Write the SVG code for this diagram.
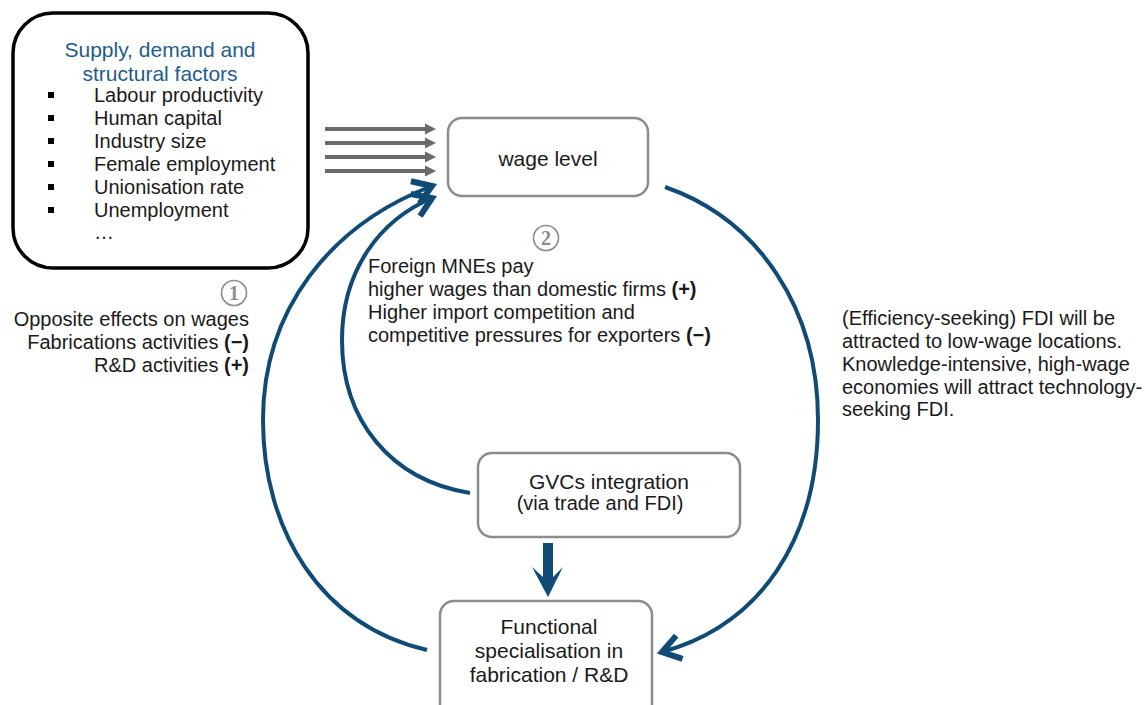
<svg xmlns="http://www.w3.org/2000/svg" width="1145" height="705" viewBox="0 0 1145 705">
<defs>
<style>
text{font-family:"Liberation Sans",Arial,sans-serif;fill:#1a1a1a;}
.t20{font-size:20px;}
.t21{font-size:21px;}
.title{font-size:21px;fill:#1f5c8a;}
.box{fill:#fff;stroke:#8c8c8c;stroke-width:2.5;}
.blue{fill:none;stroke:#0f4b74;stroke-width:4;}
.gray{stroke:#6b6b6b;stroke-width:4;}
.num{fill:none;stroke:#8c8c8c;stroke-width:1.6;}
.numt{font-family:"Liberation Serif","Times New Roman",serif;font-size:20px;font-weight:bold;fill:#8c8c8c;}
</style>
<marker id="ah" markerUnits="userSpaceOnUse" markerWidth="30" markerHeight="30" viewBox="-16 -10 20 20" refX="0" refY="0" orient="auto" overflow="visible">
<path d="M-12,-8 L0,0 L-12,8" fill="none" stroke="#0f4b74" stroke-width="4" stroke-linejoin="miter"/>
</marker>
</defs>

<g id="factors">
<rect x="13" y="13" width="295" height="255" rx="40" fill="#fff" stroke="#000" stroke-width="3.5"/>
<text class="title" x="160" y="57" text-anchor="middle">Supply, demand and</text>
<text class="title" x="160" y="81" text-anchor="middle">structural factors</text>
<g fill="#000">
<rect x="48" y="92" width="6" height="6"/>
<rect x="48" y="115" width="6" height="6"/>
<rect x="48" y="138" width="6" height="6"/>
<rect x="48" y="161" width="6" height="6"/>
<rect x="48" y="184" width="6" height="6"/>
<rect x="48" y="207" width="6" height="6"/>
</g>
<text class="t20" x="94" y="102">Labour productivity</text>
<text class="t20" x="94" y="125">Human capital</text>
<text class="t20" x="94" y="148">Industry size</text>
<text class="t20" x="94" y="171">Female employment</text>
<text class="t20" x="94" y="194">Unionisation rate</text>
<text class="t20" x="94" y="217">Unemployment</text>
<text class="t20" x="94" y="239">…</text>
</g>

<g id="wage">
<rect class="box" x="448" y="118" width="200" height="78" rx="14"/>
<text class="t21" x="548" y="166" text-anchor="middle">wage level</text>
</g>

<g id="gvc">
<rect class="box" x="478" y="453" width="262" height="84" rx="14"/>
<text class="t21" x="609" y="489" text-anchor="middle">GVCs integration</text>
<text class="t20" x="600" y="510" text-anchor="middle">(via trade and FDI)</text>
</g>

<g id="functional">
<rect class="box" x="440" y="601" width="212" height="120" rx="14"/>
<text class="t21" x="549" y="634" text-anchor="middle">Functional</text>
<text class="t21" x="549" y="658" text-anchor="middle">specialisation in</text>
<text class="t21" x="549" y="682" text-anchor="middle">fabrication / R&amp;D</text>
</g>

<g id="connectors">
<g class="gray">
<line x1="325" y1="129" x2="428" y2="129"/>
<line x1="325" y1="143" x2="428" y2="143"/>
<line x1="325" y1="157" x2="428" y2="157"/>
<line x1="325" y1="171" x2="428" y2="171"/>
</g>
<g fill="#6b6b6b">
<polygon points="425,123.5 436,129 425,134.5"/>
<polygon points="425,137.5 436,143 425,148.5"/>
<polygon points="425,151.5 436,157 425,162.5"/>
<polygon points="425,165.5 436,171 425,176.5"/>
</g>
<path class="blue" d="M427,650 C320,625 263,530 263,420 C263,310 330,225 432,186" marker-end="url(#ah)"/>
<path class="blue" d="M470,493 C390,480 342,420 342,340 C342,270 380,220 432,198" marker-end="url(#ah)"/>
<path class="blue" d="M665,187 C760,220 818,310 818,420 C818,540 760,625 662,652" marker-end="url(#ah)"/>
<polygon points="543,543 553,543 553,577 563,567 548,597 532,567 543,577" fill="#0f4b74"/>
</g>

<g id="label1">
<circle class="num" cx="234" cy="293" r="12.5"/>
<text class="numt" x="234" y="300" text-anchor="middle">1</text>
<text class="t20" x="249" y="326" text-anchor="end">Opposite effects on wages</text>
<text class="t20" x="249" y="349" text-anchor="end">Fabrications activities <tspan font-weight="bold">(−)</tspan></text>
<text class="t20" x="249" y="372" text-anchor="end">R&amp;D activities <tspan font-weight="bold">(+)</tspan></text>
</g>

<g id="label2">
<circle class="num" cx="546" cy="238" r="12.5"/>
<text class="numt" x="546" y="245" text-anchor="middle">2</text>
<text class="t20" x="368" y="273">Foreign MNEs pay</text>
<text class="t20" x="368" y="296">higher wages than domestic firms <tspan font-weight="bold">(+)</tspan></text>
<text class="t20" x="368" y="319">Higher import competition and</text>
<text class="t20" x="368" y="342">competitive pressures for exporters <tspan font-weight="bold">(−)</tspan></text>
</g>

<g id="label3">
<text class="t20" x="842" y="325">(Efficiency-seeking) FDI will be</text>
<text class="t20" x="842" y="348">attracted to low-wage locations.</text>
<text class="t20" x="842" y="371">Knowledge-intensive, high-wage</text>
<text class="t20" x="842" y="394">economies will attract technology-</text>
<text class="t20" x="842" y="416">seeking FDI.</text>
</g>
</svg>
